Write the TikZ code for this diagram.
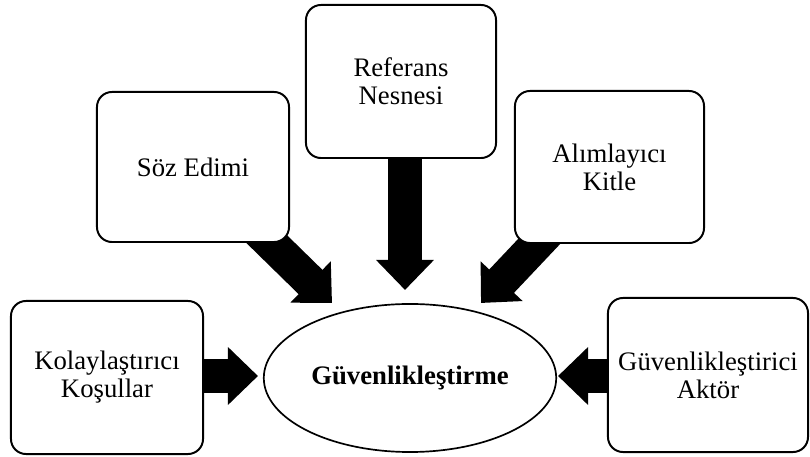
\documentclass[tikz,border=0pt]{standalone}
\usepackage{fontspec}
\setmainfont{Liberation Serif}
\usetikzlibrary{arrows.meta,shapes,backgrounds}

\begin{document}
\begin{tikzpicture}[x=0.025cm,y=-0.025cm,
        every node/.style={font=\fontsize{19}{20}\selectfont},
        kutu/.style={draw,line width=1.4pt,rounded corners=0.375cm,fill=white,align=center},
        okbuyuk/.style={line width=0.85cm,-{Triangle[length=0.75cm,width=1.4cm]}}]
                \useasboundingbox (0,0) rectangle (810,457);
                \node[kutu,minimum width=4.8cm,minimum height=3.825cm] (kosul) at (107,377.5) {Kolaylaştırıcı\\Koşullar};
                \node[kutu,minimum width=4.8cm,minimum height=3.75cm] (soz) at (193,167) {Söz Edimi};
                \node[kutu,minimum width=4.75cm,minimum height=3.825cm] (ref) at (401,81.5) {Referans\\Nesnesi};
                \node[kutu,minimum width=4.725cm,minimum height=3.8cm] (kitle) at (609.5,167) {Alımlayıcı\\Kitle};
                \node[kutu,minimum width=5cm,minimum height=3.85cm] (aktor) at (708,375) {Güvenlikleştirici\\Aktör};
                \node[draw,ellipse,line width=1.2pt,minimum width=7.15cm,minimum height=3.7cm] (guv) at (410,378) {\textbf{Güvenlikleştirme}};
                % ok uclari
                \coordinate (ucK) at (258,376);
                \coordinate (ucS) at (332,303);
                \coordinate (ucR) at (405,290);
                \coordinate (ucT) at (481,303);
                \coordinate (ucA) at (558,376);
                \begin{scope}[on background layer]
                \draw[okbuyuk] (kosul.center |- ucK) -- (ucK);
                \draw[okbuyuk] (soz.center) -- (ucS);
                \draw[okbuyuk] (ref.center -| ucR) -- (ucR);
                \draw[okbuyuk] (kitle.center) -- (ucT);
                \draw[okbuyuk] (aktor.center |- ucA) -- (ucA);
                \end{scope}
            \end{tikzpicture}
\end{document}
